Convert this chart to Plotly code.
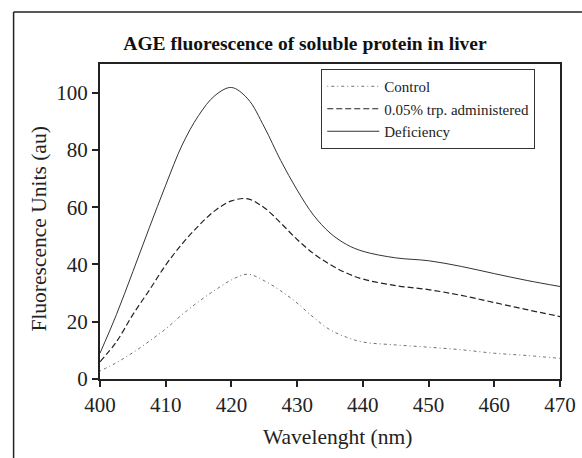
import plotly.graph_objects as go

wavelength = [400, 402.5, 405, 407.5, 410, 412.5, 415, 417.5, 420, 422.5, 425, 427.5, 430, 432.5, 435, 437.5, 440, 445, 450, 455, 460, 465, 470]
control = [2.8, 5.7, 9.2, 13.2, 17.5, 22.5, 27.0, 31.0, 34.6, 36.6, 34.3, 30.8, 26.5, 21.5, 17.2, 14.6, 12.9, 11.9, 11.1, 10.2, 9.0, 8.2, 7.2]
trp = [6.0, 13.0, 22.5, 31.0, 39.8, 47.2, 53.5, 58.8, 62.2, 62.9, 59.8, 54.5, 48.7, 43.8, 40.0, 37.0, 34.9, 32.6, 31.2, 29.2, 26.7, 24.2, 21.8]
deficiency = [9.0, 22.5, 37.5, 52.8, 67.7, 81.7, 92.0, 99.0, 101.8, 97.8, 88.0, 76.3, 66.0, 57.2, 51.0, 47.0, 44.6, 42.3, 41.3, 39.3, 36.8, 34.4, 32.3]

series_names = ["Control", "0.05% trp. administered", "Deficiency"]
x_ticks = [400, 410, 420, 430, 440, 450, 460, 470]
y_ticks = [0, 20, 40, 60, 80, 100]

FONT = "Liberation Serif, Times New Roman, serif"

fig = go.Figure()
fig.add_trace(go.Scatter(x=wavelength, y=control, name=series_names[0], mode="lines",
                         line=dict(color="#707070", width=1, dash="1px,3px,3px,3px", shape="spline")))
fig.add_trace(go.Scatter(x=wavelength, y=trp, name=series_names[1], mode="lines",
                         line=dict(color="#222222", width=1.2, dash="6px,3px", shape="spline")))
fig.add_trace(go.Scatter(x=wavelength, y=deficiency, name=series_names[2], mode="lines",
                         line=dict(color="#333333", width=1, shape="spline")))

W, H = 582, 458
L, R, T, B = 99.5, 22, 64, 79
pw = W - L - R
ph = H - T - B

def px(x):
    return (x - L) / pw

def py(y):
    return (H - B - y) / ph

fig.update_layout(
    width=W, height=H, autosize=False,
    margin=dict(l=L, r=R, t=T, b=B, pad=0, autoexpand=False),
    paper_bgcolor="white", plot_bgcolor="white",
    font=dict(family=FONT, color="#222222", size=21),
    title=dict(text="<b>AGE fluorescence of soluble protein in liver</b>",
               x=305 / W, xref="container", xanchor="center",
               y=1 - 43 / H, yref="container", yanchor="middle",
               font=dict(family=FONT, size=19.5, color="#111111")),
    xaxis=dict(range=[400, 470], tickvals=x_ticks, ticks="outside", ticklen=6, tickwidth=1.5,
               tickcolor="#222", showline=True, linecolor="#222", linewidth=2, mirror=True,
               showgrid=False, zeroline=False, automargin=False,
               tickfont=dict(family=FONT, size=21)),
    yaxis=dict(range=[0, 110], tickvals=y_ticks, ticks="outside", ticklen=6, tickwidth=1.5,
               tickcolor="#222", showline=True, linecolor="#222", linewidth=2, mirror=True,
               showgrid=False, zeroline=False, automargin=False,
               tickfont=dict(family=FONT, size=21)),
    legend=dict(x=px(321), y=py(69), xanchor="left", yanchor="top",
                bgcolor="white", bordercolor="#333", borderwidth=1,
                font=dict(family=FONT, size=15), tracegroupgap=0, itemwidth=52),
    showlegend=True,
)

# axis titles
fig.add_annotation(text="Wavelenght (nm)", xref="paper", yref="paper", x=px(337), y=py(437),
                   xanchor="center", yanchor="middle", showarrow=False,
                   font=dict(family=FONT, size=21.5, color="#222222"))
fig.add_annotation(text="Fluorescence Units (au)", xref="paper", yref="paper", x=px(38), y=py(229),
                   xanchor="center", yanchor="middle", showarrow=False, textangle=-90,
                   font=dict(family=FONT, size=21.5, color="#222222"))

# outer frame (top and left edges)
fig.add_shape(type="line", xref="paper", yref="paper", x0=px(13), x1=px(582), y0=py(12), y1=py(12),
              line=dict(color="#222", width=1.5))
fig.add_shape(type="line", xref="paper", yref="paper", x0=px(13), x1=px(13), y0=py(12), y1=py(458),
              line=dict(color="#222", width=1.5))

fig.write_html("out.html", config={"displayModeBar": False},
               post_script="document.body.style.margin='0';document.body.style.overflow='hidden';")
